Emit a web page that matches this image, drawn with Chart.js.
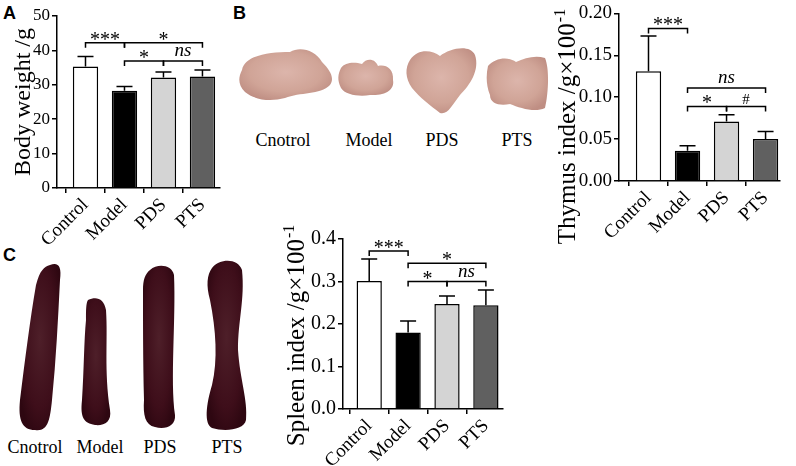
<!DOCTYPE html>
<html>
<head>
<meta charset="utf-8">
<script src="https://cdn.jsdelivr.net/npm/chart.js@4"></script>
<style>
  body { margin: 0; background: #fff; }
  #page { position: relative; width: 796px; height: 466px; overflow: hidden; background: #fff; }
  .panel { position: absolute; font-family: "Liberation Sans", Arial, sans-serif; font-weight: bold; font-size: 18px; line-height: 18px; }
  canvas { position: absolute; }
  svg { position: absolute; left: 0; top: 0; }
</style>
</head>
<body>
<div id="page">
  <svg width="796" height="466" id="photos">
    <defs>
      <radialGradient id="thy" cx="50%" cy="45%" r="60%">
        <stop offset="0%" stop-color="#dcb5ab"/>
        <stop offset="65%" stop-color="#d0a497"/>
        <stop offset="100%" stop-color="#bf8e83"/>
      </radialGradient>
      <radialGradient id="spl" cx="50%" cy="45%" r="60%">
        <stop offset="0%" stop-color="#4e1f29"/>
        <stop offset="70%" stop-color="#3e0e1a"/>
        <stop offset="100%" stop-color="#2e0711"/>
      </radialGradient>
    </defs>
    <!-- thymus photos -->
    <path fill="url(#thy)" d="M242,70 C245,55 270,52 290,52 C300,46 315,50 322,62 C330,70 335,78 330,85 C320,95 300,92 285,98 C270,102 255,100 245,92 C238,85 238,78 242,70 Z"/>
    <path fill="url(#thy)" d="M341,68 C345,62 355,62 362,64 C366,58 375,58 378,66 C385,64 394,68 393,80 C395,90 385,96 370,95 C360,97 345,95 341,88 C337,80 338,74 341,68 Z"/>
    <path fill="url(#thy)" d="M410,60 C418,48 432,50 440,56 C450,48 470,44 475,55 C480,70 470,85 460,95 C452,105 448,115 440,113 C430,105 420,98 412,88 C405,78 405,68 410,60 Z"/>
    <path fill="url(#thy)" d="M488,66 C495,58 508,56 516,62 C525,58 535,55 545,58 C550,70 548,95 545,108 C535,113 520,108 510,104 C500,106 490,104 490,95 C486,85 486,75 488,66 Z"/>
    <!-- spleen photos -->
    <path fill="url(#spl)" d="M50,265 C58,262 62,266 60,280 C58,320 56,360 52,400 C50,420 48,432 35,430 C22,430 18,420 20,400 C25,360 30,320 36,285 C40,270 44,267 50,265 Z"/>
    <path fill="url(#spl)" d="M88,300 C96,296 104,298 106,310 C108,340 104,370 110,410 C112,422 104,426 95,425 C84,423 80,418 82,400 C84,370 84,340 86,320 C86,310 86,303 88,300 Z"/>
    <path fill="url(#spl)" d="M150,270 C158,263 172,265 174,275 C176,320 170,380 175,415 C176,426 165,430 155,427 C145,425 143,415 144,400 C143,360 143,320 143,290 C143,280 145,274 150,270 Z"/>
    <path fill="url(#spl)" d="M212,268 C220,258 238,258 242,270 C245,300 238,320 238,350 C240,380 248,400 246,420 C244,430 225,432 212,428 C204,424 206,405 212,385 C218,360 216,330 210,300 C206,285 207,275 212,268 Z"/>
    <g id="photoText" font-family="Liberation Serif, Times New Roman, serif" font-size="18" text-anchor="middle" fill="#000"></g>
  </svg>
  <div class="panel" style="left:3px; top:4px;">A</div>
  <div class="panel" style="left:233px; top:4px;">B</div>
  <div class="panel" style="left:3px; top:246px;">C</div>
  <canvas id="chartA" style="left:0px; top:0px;"></canvas>
  <canvas id="chartB" style="left:545px; top:0px;"></canvas>
  <canvas id="chartC" style="left:270px; top:225px;"></canvas>
</div>
<script>
const groups = ["Control", "Model", "PDS", "PTS"];
const photoLabels = ["Cnotrol", "Model", "PDS", "PTS"];
const barColors = ["#ffffff", "#000000", "#d4d4d4", "#606060"];

const bodyWeight = [35.3, 28.3, 32.1, 32.4];
const bodyWeightErr = [2.9, 1.2, 1.6, 1.9];
const thymusIndex = [0.131, 0.036, 0.071, 0.050];
const thymusErr = [0.042, 0.006, 0.008, 0.009];
const spleenIndex = [0.301, 0.180, 0.247, 0.244];
const spleenErr = [0.052, 0.027, 0.019, 0.036];

// significance brackets: [from, to, level, label]
const bodyWeightSig = [[0, 1, 42.2, "***"], [1, 3, 42.2, "*"], [1, 2, 36.9, "*"], [2, 3, 36.9, "ns"]];
const thymusSig = [[0, 1, 0.182, "***"], [1, 3, 0.111, "ns"], [1, 2, 0.089, "*"], [2, 3, 0.089, "#"]];
const spleenSig = [[0, 1, 0.372, "***"], [1, 3, 0.343, "*"], [1, 2, 0.300, "*"], [2, 3, 0.300, "ns"]];

const serif = "'Liberation Serif', 'Times New Roman', 'DejaVu Serif', serif";

// photo captions
const photoText = document.getElementById("photoText");
function addCaption(x, y, t) {
    const el = document.createElementNS("http://www.w3.org/2000/svg", "text");
    el.setAttribute("x", x);
    el.setAttribute("y", y);
    el.textContent = t;
    photoText.appendChild(el);
}
[283, 369, 442, 517].forEach((x, i) => addCaption(x, 146, photoLabels[i]));
[35, 100, 160, 227].forEach((x, i) => addCaption(x, 453, photoLabels[i]));

const extrasPlugin = {
    id: "extras",
    afterDatasetsDraw(chart) {
        const ctx = chart.ctx;
        const y = chart.scales.y;
        const bars = chart.getDatasetMeta(0).data;
        const o = chart.options.plugins.extras;
        ctx.save();
        ctx.strokeStyle = "#000";
        ctx.fillStyle = "#000";
        ctx.lineWidth = 1.5;
        // error bars (upper only)
        bars.forEach((b, i) => {
            const top = y.getPixelForValue(o.values[i] + o.errors[i]);
            ctx.beginPath();
            ctx.moveTo(b.x, b.y);
            ctx.lineTo(b.x, top);
            ctx.moveTo(b.x - 8, top);
            ctx.lineTo(b.x + 8, top);
            ctx.stroke();
        });
        // brackets
        o.sig.forEach(([a, c, lvl, label]) => {
            const x1 = bars[a].x, x2 = bars[c].x;
            const py = y.getPixelForValue(lvl);
            ctx.beginPath();
            ctx.moveTo(x1, py + 5);
            ctx.lineTo(x1, py);
            ctx.lineTo(x2, py);
            ctx.lineTo(x2, py + 5);
            ctx.stroke();
            ctx.textAlign = "center";
            ctx.textBaseline = "alphabetic";
            if (label === "ns") {
                ctx.font = "italic " + o.sigSize + "px " + serif;
                ctx.fillText(label, (x1 + x2) / 2, py - 5);
            } else if (label === "#") {
                ctx.font = (o.sigSize - 4) + "px " + serif;
                ctx.fillText(label, (x1 + x2) / 2, py - 2);
            } else {
                ctx.font = (o.sigSize + 1) + "px " + serif;
                ctx.fillText(label, (x1 + x2) / 2, py + 3);
            }
        });
        // y axis title, with a raised exponent
        const t = o.title;
        ctx.translate(t.x, t.y);
        ctx.rotate(-Math.PI / 2);
        ctx.textAlign = "left";
        ctx.font = t.size + "px " + serif;
        const w1 = ctx.measureText(t.text).width;
        const supSize = Math.round(t.size * 0.62);
        ctx.font = supSize + "px " + serif;
        const w2 = t.sup ? ctx.measureText(t.sup).width : 0;
        const start = -(w1 + w2) / 2;
        ctx.font = t.size + "px " + serif;
        ctx.fillText(t.text, start, 0);
        if (t.sup) {
            ctx.font = supSize + "px " + serif;
            ctx.fillText(t.sup, start + w1 + 1, -t.size * 0.42);
        }
        ctx.restore();
    }
};

function makeChart(id, cfg) {
    const canvas = document.getElementById(id);
    canvas.width = cfg.w;
    canvas.height = cfg.h;
    canvas.style.width = cfg.w + "px";
    canvas.style.height = cfg.h + "px";
    return new Chart(canvas, {
        type: "bar",
        data: {
            datasets: [{
                data: cfg.values.map((v, i) => ({ x: i, y: v })),
                backgroundColor: barColors,
                borderColor: "#000",
                borderWidth: 1.5,
                categoryPercentage: 1,
                barPercentage: 0.65,
            }],
        },
        options: {
            responsive: false,
            animation: false,
            devicePixelRatio: 1,
            layout: { padding: { top: cfg.padTop, right: cfg.padRight, left: 0, bottom: 0 } },
            plugins: {
                legend: { display: false },
                tooltip: { enabled: false },
                extras: { values: cfg.values, errors: cfg.errors, sig: cfg.sig, sigSize: cfg.sigSize, title: cfg.title },
            },
            scales: {
                x: {
                    type: "linear",
                    min: cfg.xMin,
                    max: cfg.xMax,
                    offset: false,
                    afterBuildTicks: (s) => { s.ticks = groups.map((g, i) => ({ value: i })); },
                    afterFit: (s) => { s.height = cfg.xHeight; },
                    border: { color: "#000", width: 1.5 },
                    grid: { drawOnChartArea: false, color: "#000", lineWidth: 1.5, tickLength: 5 },
                    ticks: {
                        color: "#000",
                        font: { family: serif, size: cfg.xFont },
                        minRotation: 45,
                        maxRotation: 45,
                        autoSkip: false,
                        padding: 1,
                        callback: (v) => groups[v] ?? "",
                    },
                },
                y: {
                    min: 0,
                    max: cfg.yMax,
                    afterFit: (s) => { s.width = cfg.yWidth; },
                    border: { color: "#000", width: 1.5 },
                    grid: { drawOnChartArea: false, color: "#000", lineWidth: 1.5, tickLength: 5 },
                    ticks: {
                        color: "#000",
                        stepSize: cfg.step,
                        padding: 2,
                        font: { family: serif, size: cfg.yFont },
                        callback: (v) => v.toFixed(cfg.dec),
                    },
                },
            },
        },
        plugins: [extrasPlugin],
    });
}

makeChart("chartA", {
    w: 230, h: 250, padTop: 16, padRight: 10, yWidth: 57, xHeight: 62,
    xMin: -0.731, xMax: 3.45, yMax: 50, step: 10, dec: 0,
    values: bodyWeight, errors: bodyWeightErr, sig: bodyWeightSig,
    title: { text: "Body weight /g", size: 24, x: 30, y: 102 },
    yFont: 17, xFont: 19, sigSize: 19,
});

makeChart("chartB", {
    w: 251, h: 256, padTop: 12, padRight: 16, yWidth: 74, xHeight: 75,
    xMin: -0.756, xMax: 3.37, yMax: 0.2, step: 0.05, dec: 2,
    values: thymusIndex, errors: thymusErr, sig: thymusSig,
    title: { text: "Thymus index /g×100", sup: "-1", size: 25, x: 30, y: 127 },
    yFont: 19, xFont: 19, sigSize: 19,
});

makeChart("chartC", {
    w: 250, h: 241, padTop: 14, padRight: 17, yWidth: 73, xHeight: 57,
    xMin: -0.674, xMax: 3.44, yMax: 0.4, step: 0.1, dec: 1,
    values: spleenIndex, errors: spleenErr, sig: spleenSig,
    title: { text: "Spleen index /g×100", sup: "-1", size: 25, x: 34, y: 111 },
    yFont: 20, xFont: 19, sigSize: 19,
});
</script>
</body>
</html>
